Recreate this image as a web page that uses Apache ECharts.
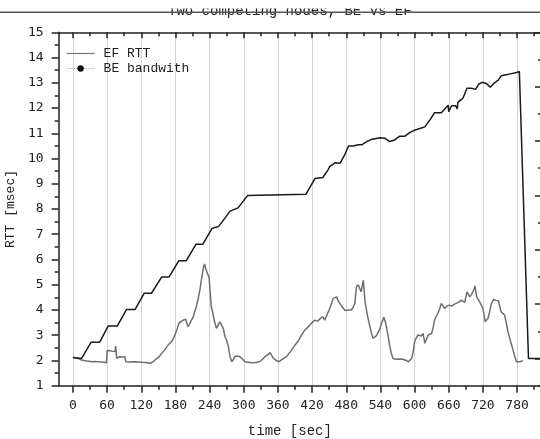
<!DOCTYPE html>
<html>
<head>
<meta charset="utf-8">
<title>Two competing nodes, BE vs EF</title>
<script src="https://cdn.jsdelivr.net/npm/echarts@6/dist/echarts.min.js"></script>
<style>
  html, body { margin: 0; padding: 0; background: #fff; }
  #chart { width: 540px; height: 439px; }
</style>
</head>
<body>
<div id="chart"></div>
<script>
// EF RTT [msec] over time [sec]
const efTime = [0, 5, 9, 12, 15, 20, 24, 28, 33, 38, 44, 50, 55, 59, 60, 64, 68, 74, 75, 77, 80, 82, 87, 91, 93,
  100, 109, 115, 121, 128, 135, 140, 144, 150, 156, 162, 167, 173, 176, 179, 183, 186, 190, 194, 198, 202, 205,
  208, 211, 213, 217, 220, 223, 226, 229, 231, 232, 234, 236, 239, 241, 243, 246, 248, 252, 255, 258, 261, 264,
  267, 270, 273, 276, 279, 282, 284, 288, 293, 298, 302, 308, 314, 320, 328, 333, 337, 342, 346, 349, 352, 357,
  362, 368, 375, 382, 390, 395, 400, 407, 411, 416, 420, 425, 430, 435, 439, 442, 445, 450, 454, 457, 460, 463,
  466, 469, 472, 475, 478, 480, 484, 489, 492, 495, 498, 501, 503, 506, 508, 510, 513, 516, 518, 521, 524, 527,
  530, 533, 536, 539, 542, 546, 549, 551, 554, 556, 559, 562, 565, 568, 574, 580, 585, 589, 592, 595, 598, 600,
  603, 606, 609, 612, 615, 618, 621, 624, 627, 630, 633, 635, 638, 641, 644, 647, 650, 653, 657, 661, 665, 669,
  673, 677, 682, 685, 688, 692, 695, 697, 700, 702, 704, 706, 709, 711, 714, 717, 720, 722, 724, 726, 729, 732,
  735, 739, 743, 747, 750, 752, 755, 758, 761, 764, 768, 773, 776, 779, 785, 790];
const efRtt = [2.12, 2.10, 2.08, 2.06, 2.02, 2.00, 1.98, 1.97, 1.95, 1.96, 1.95, 1.94, 1.93, 1.91, 2.39, 2.38, 2.37,
  2.35, 2.57, 2.08, 2.12, 2.15, 2.14, 2.15, 1.95, 1.94, 1.95, 1.94, 1.93, 1.92, 1.89, 1.93, 2.02, 2.12, 2.28,
  2.45, 2.61, 2.74, 2.85, 3.01, 3.25, 3.47, 3.55, 3.60, 3.63, 3.34, 3.45, 3.60, 3.70, 3.87, 4.15, 4.46, 4.80,
  5.25, 5.65, 5.82, 5.85, 5.58, 5.45, 5.31, 4.70, 4.13, 3.85, 3.60, 3.27, 3.40, 3.53, 3.40, 3.27, 2.94, 2.81,
  2.54, 2.15, 1.95, 2.05, 2.15, 2.18, 2.15, 2.05, 1.95, 1.93, 1.91, 1.92, 1.95, 2.05, 2.15, 2.22, 2.31, 2.20,
  2.08, 2.00, 1.95, 2.05, 2.15, 2.35, 2.61, 2.75, 2.95, 3.20, 3.28, 3.40, 3.50, 3.60, 3.55, 3.68, 3.73, 3.60,
  3.65, 4.00, 4.25, 4.46, 4.50, 4.52, 4.35, 4.29, 4.15, 4.06, 3.98, 3.93, 4.00, 4.00, 4.10, 4.26, 4.92, 5.00,
  4.99, 4.72, 4.95, 5.18, 4.33, 3.93, 3.70, 3.40, 3.10, 2.88, 2.92, 2.98, 3.01, 3.25, 3.47, 3.71, 3.50, 3.27,
  2.90, 2.61, 2.30, 2.08, 2.06, 2.05, 2.06, 2.05, 2.00, 1.95, 1.97, 2.08, 2.40, 2.74, 2.90, 3.01, 3.05, 2.97,
  3.07, 2.68, 2.85, 3.01, 3.04, 3.07, 3.35, 3.60, 3.75, 3.87, 4.05, 4.26, 4.15, 4.06, 4.15, 4.19, 4.15, 4.22,
  4.26, 4.30, 4.39, 4.35, 4.30, 4.72, 4.60, 4.52, 4.62, 4.66, 4.80, 4.95, 4.52, 4.45, 4.33, 4.20, 4.06, 3.80,
  3.53, 3.60, 3.67, 3.95, 4.26, 4.42, 4.38, 4.37, 4.42, 3.93, 3.88, 3.80, 3.50, 3.14, 2.80, 2.41, 2.15, 1.95,
  1.95, 1.99];

// BE bandwith (right axis, labels cropped in the original)
const beTime = [0, 15, 32, 47, 62, 78, 94, 109, 125, 138, 156, 169, 186, 199, 216, 228, 244, 256, 276, 290, 307,
  409, 425, 439, 448, 451, 460, 469, 477, 484, 492, 501, 507, 516, 524, 539, 548, 552, 556, 565, 574, 583, 592,
  600, 612, 618, 627, 635, 647, 653, 659, 660, 665, 672, 675, 676, 685, 692, 700, 707, 713, 719, 726, 733, 739,
  747, 752, 761, 770, 779, 784, 800, 830];
const beBw = [0.02, 0.0, 0.30, 0.30, 0.60, 0.60, 0.90, 0.90, 1.20, 1.20, 1.50, 1.50, 1.80, 1.80, 2.10, 2.10, 2.39,
  2.43, 2.71, 2.77, 3.00, 3.02, 3.31, 3.33, 3.47, 3.53, 3.60, 3.59, 3.74, 3.91, 3.91, 3.93, 3.93, 3.99, 4.03,
  4.06, 4.05, 4.02, 3.99, 4.02, 4.09, 4.09, 4.16, 4.20, 4.24, 4.26, 4.39, 4.52, 4.52, 4.59, 4.66, 4.54, 4.65,
  4.65, 4.59, 4.71, 4.79, 4.97, 4.97, 4.95, 5.05, 5.08, 5.06, 4.99, 5.06, 5.12, 5.20, 5.22, 5.24, 5.26, 5.28,
  0.0, 0.0];

const timeTicks = [0, 60, 120, 180, 240, 300, 360, 420, 480, 540, 600, 660, 720, 780];
const timeMinor = [30, 90, 150, 210, 270, 330, 390, 450, 510, 570, 630, 690, 750, 810];
const rttMinor = [1.5, 2.5, 3.5, 4.5, 5.5, 6.5, 7.5, 8.5, 9.5, 10.5, 11.5, 12.5, 13.5, 14.5];
const bwTicks = [0, 1, 2, 3, 4, 5, 6];
const bwMinor = [-0.5, 0.5, 1.5, 2.5, 3.5, 4.5, 5.5];

const monoText = 'Liberation Mono';
const monoNum = 'DejaVu Sans Mono';
const ink = '#222';

let myChart = echarts.init(document.getElementById('chart'));

function xAxisBase(pos) {
  return {
    type: 'value',
    position: pos,
    min: -25,
    max: 822,
    axisLine: { show: false, onZero: false },
    axisTick: { show: false },
    axisLabel: { show: false },
    splitLine: { show: false }
  };
}

function yAxisBase(pos, min, max, interval) {
  return {
    type: 'value',
    position: pos,
    min: min,
    max: max,
    interval: interval,
    axisLine: { show: false, onZero: false },
    axisTick: { show: false },
    axisLabel: { show: false },
    splitLine: { show: false }
  };
}

let xMain = xAxisBase('bottom');
xMain.axisLine = { show: true, onZero: false, lineStyle: { color: ink, width: 1.5 } };
xMain.axisTick = { show: true, customValues: timeTicks, length: 7, lineStyle: { color: ink, width: 1.5 } };
xMain.axisLabel = { show: true, customValues: timeTicks, margin: 13, color: ink, fontFamily: monoNum, fontSize: 13 };
xMain.splitLine = { show: true, lineStyle: { color: '#d4d4d4', width: 1 } };
xMain.name = 'time [sec]';
xMain.nameLocation = 'middle';
xMain.nameGap = 39;
xMain.nameTextStyle = { color: ink, fontFamily: monoText, fontSize: 14, padding: [0, 20, 0, 0] };

let xMinor = xAxisBase('bottom');
xMinor.axisTick = { show: true, customValues: timeMinor, length: 4, lineStyle: { color: ink, width: 1.5 } };

let xTop = xAxisBase('top');
xTop.axisLine = { show: true, onZero: false, lineStyle: { color: ink, width: 1.5 } };
xTop.axisTick = { show: true, inside: true, customValues: timeTicks, length: 6, lineStyle: { color: ink, width: 1.5 } };

let xTopMinor = xAxisBase('top');
xTopMinor.axisTick = { show: true, inside: true, customValues: timeMinor, length: 4, lineStyle: { color: ink, width: 1.5 } };

// left: RTT
let yRtt = yAxisBase('left', 1, 15, 1);
yRtt.name = 'RTT [msec]';
yRtt.nameLocation = 'middle';
yRtt.nameGap = 40;
yRtt.nameTextStyle = { color: ink, fontFamily: monoText, fontSize: 13 };
yRtt.axisLine = { show: true, onZero: false, lineStyle: { color: ink, width: 1.5 } };
yRtt.axisTick = { show: true, length: 7, lineStyle: { color: ink, width: 1.5 } };
yRtt.axisLabel = { show: true, margin: 15, color: ink, fontFamily: monoNum, fontSize: 13 };

let yRttMinor = yAxisBase('left', 1, 15, 1);
yRttMinor.axisTick = { show: true, customValues: rttMinor, length: 4, lineStyle: { color: ink, width: 1.5 } };

// right: BE bandwith
let yBw = yAxisBase('right', -0.5, 6, 0.5);
yBw.axisLine = { show: true, onZero: false, lineStyle: { color: ink, width: 1.5 } };
yBw.axisTick = { show: true, inside: true, customValues: bwTicks, length: 6, lineStyle: { color: ink, width: 1.5 } };

let yBwMinor = yAxisBase('right', -0.5, 6, 0.5);
yBwMinor.axisTick = { show: true, inside: true, customValues: bwMinor, length: 3, lineStyle: { color: ink, width: 1.5 } };

let option = {
  animation: false,
  title: {
    text: 'Two competing nodes, BE vs EF',
    left: 168,
    top: 4,
    padding: 0,
    textStyle: { color: ink, fontFamily: monoText, fontSize: 14, fontWeight: 'normal' }
  },
  graphic: [
    { type: 'rect', z: 100, shape: { x: 0, y: 0, width: 540, height: 8.5 }, style: { fill: '#fff' } },
    { type: 'line', z: 101, shape: { x1: 0, y1: 12.3, x2: 540, y2: 12.3 }, style: { stroke: '#555', lineWidth: 1.5 } }
  ],
  legend: {
    show: true,
    orient: 'vertical',
    left: 66,
    top: 47,
    padding: 0,
    itemWidth: 28,
    itemHeight: 8,
    itemGap: 2,
    textStyle: { color: ink, fontFamily: monoText, fontSize: 13, padding: [0, 0, 0, 4] },
    data: [
      { name: 'EF RTT', lineStyle: { color: '#777', width: 1.2 }, itemStyle: { opacity: 0 } },
      { name: 'BE bandwith', lineStyle: { color: '#aaa', width: 1.2, type: 'dotted' }, itemStyle: { color: '#111' } }
    ]
  },
  grid: {
    left: 58.7,
    right: -1,
    top: 32.3,
    bottom: 53.3,
    containLabel: false,
    outerBoundsMode: 'none'
  },
  xAxis: [xMain, xMinor, xTop, xTopMinor],
  yAxis: [yRtt, yBw, yRttMinor, yBwMinor],
  series: [
    {
      name: 'EF RTT',
      type: 'line',
      xAxisIndex: 0,
      yAxisIndex: 0,
      symbol: 'none',
      lineStyle: { color: '#6e6e6e', width: 1.5 },
      itemStyle: { color: '#6e6e6e' },
      data: efTime.map((t, i) => [t, efRtt[i]]),
      z: 3
    },
    {
      name: 'BE bandwith',
      type: 'line',
      xAxisIndex: 0,
      yAxisIndex: 1,
      symbol: 'circle',
      symbolSize: 6,
      showSymbol: false,
      lineStyle: { color: '#1a1a1a', width: 1.5 },
      itemStyle: { color: '#1a1a1a' },
      data: beTime.map((t, i) => [t, beBw[i]]),
      z: 4
    }
  ]
};

myChart.setOption(option);
</script>
</body>
</html>
